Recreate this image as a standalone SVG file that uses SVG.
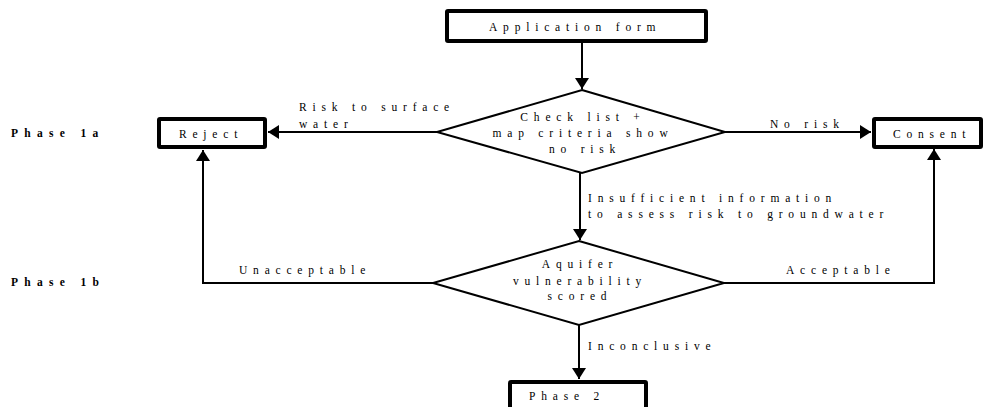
<svg xmlns="http://www.w3.org/2000/svg" width="996" height="407" viewBox="0 0 996 407">
<style>
text{font-family:"Liberation Serif","Times New Roman",serif;font-size:11.5px;letter-spacing:5.8px;fill:#000}
.ph{font-weight:bold;letter-spacing:6.3px}
.box{fill:#fff;stroke:#000;stroke-width:4}
.dia{fill:#fff;stroke:#000;stroke-width:2}
.c{fill:none;stroke:#000;stroke-width:2}
.m{text-anchor:middle}
</style>
<defs>
<marker id="ah" markerUnits="userSpaceOnUse" viewBox="0 0 11 14" refX="11" refY="7" markerWidth="11" markerHeight="14" orient="auto">
<path d="M0 0L11 7L0 14Z" fill="#000"/>
</marker>
</defs>
<rect width="996" height="407" fill="#fff"/>
<g id="labels-phase">
<text class="ph" x="11" y="137">Phase 1a</text>
<text class="ph" x="11" y="286">Phase 1b</text>
</g>
<g id="connectors">
<path class="c" d="M582 43V89" marker-end="url(#ah)"/>
<path class="c" d="M437 132H268" marker-end="url(#ah)"/>
<path class="c" d="M725 132H871" marker-end="url(#ah)"/>
<path class="c" d="M580 173V240" marker-end="url(#ah)"/>
<path class="c" d="M433 283H203V150" marker-end="url(#ah)"/>
<path class="c" d="M724 283H934V149" marker-end="url(#ah)"/>
<path class="c" d="M579 325V379" marker-end="url(#ah)"/>
<text x="299" y="111">Risk to surface</text>
<text x="299" y="128">water</text>
<text x="770" y="128">No risk</text>
<text x="588" y="202">Insufficient information</text>
<text x="588" y="218">to assess risk to groundwater</text>
<text x="239" y="274">Unacceptable</text>
<text x="786" y="274">Acceptable</text>
<text x="588" y="350">Inconclusive</text>
</g>
<g id="application">
<rect class="box" x="447" y="11" width="259" height="30" rx="1"/>
<text x="489" y="31">Application form</text>
</g>
<g id="check">
<path class="dia" d="M582 90L725 132L582 173L437 132Z"/>
<text class="m" x="583" y="121">Check list +</text>
<text class="m" x="583" y="137">map criteria show</text>
<text class="m" x="585" y="153">no risk</text>
</g>
<g id="reject">
<rect class="box" x="159" y="119" width="106" height="28" rx="1"/>
<text x="179" y="138">Reject</text>
</g>
<g id="consent">
<rect class="box" x="874" y="119" width="107" height="28" rx="1"/>
<text x="893" y="138">Consent</text>
</g>
<g id="aquifer">
<path class="dia" d="M579 241L724 283L579 325L433 283Z"/>
<text class="m" x="580" y="268">Aquifer</text>
<text class="m" x="580" y="285">vulnerability</text>
<text class="m" x="580" y="300">scored</text>
</g>
<g id="phase2">
<rect class="box" x="510" y="382" width="136" height="40" rx="1"/>
<text x="529" y="400">Phase 2</text>
</g>
</svg>
